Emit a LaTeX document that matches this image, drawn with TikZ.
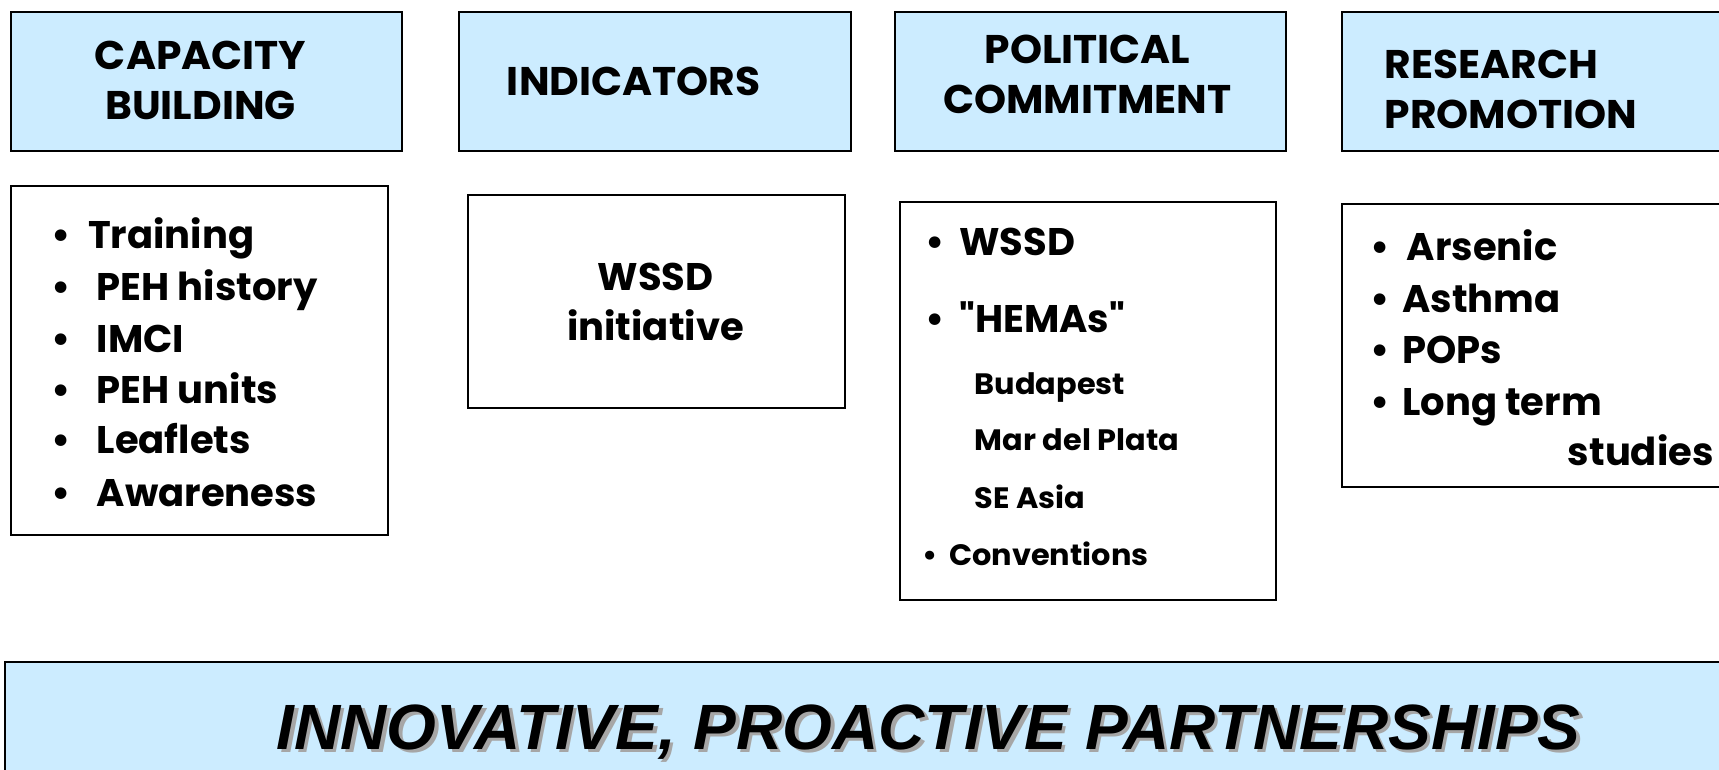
\documentclass[tikz,border=0pt]{standalone}
\usepackage{fontspec}
\setmainfont{Poppins}
\newfontfamily\gothic[FakeStretch=1.02]{Poppins}
\newfontfamily\gothicb[FakeStretch=1.0]{Poppins}
\newfontfamily\gothics[FakeStretch=1.03]{Poppins}
\newfontfamily\arialbi[FakeStretch=1.0]{Liberation Sans}
\definecolor{lblue}{HTML}{CCECFF}
\definecolor{shadowgrey}{HTML}{A6A6A6}
\begin{document}
\begin{tikzpicture}[x=1pt,y=-1pt,
  box/.style={draw=black, line width=2pt, anchor=north west, inner sep=0pt, outer sep=0pt},
  hbox/.style={box, fill=lblue},
  hd/.style={font=\gothic\bfseries\fontsize{40}{40}\selectfont, inner sep=0pt, anchor=base},
  hdl/.style={hd, anchor=base west},
  itm/.style={font=\gothicb\bfseries\fontsize{38.5}{38.5}\selectfont, inner sep=0pt, anchor=base west},
  itc/.style={itm, anchor=base},
  sml/.style={font=\gothics\bfseries\fontsize{29.5}{29.5}\selectfont, inner sep=0pt, anchor=base west},
  big/.style={font=\arialbi\bfseries\itshape\fontsize{64}{64}\selectfont, inner sep=0pt, anchor=base},
]
\useasboundingbox (0,0) rectangle (1719,770);
\clip (0,0) rectangle (1719,770);
\fill[white] (0,0) rectangle (1719,770);

% header boxes
\node[hbox, minimum width=391pt, minimum height=139pt] (b1) at (11,12) {};
\node[hbox, minimum width=392pt, minimum height=139pt] (b2) at (459,12) {};
\node[hbox, minimum width=391pt, minimum height=139pt] (b3) at (895,12) {};
\node[hbox, minimum width=400pt, minimum height=139pt] (b4) at (1342,12) {};
% content boxes
\node[box, minimum width=377pt, minimum height=349pt] (b5) at (11,186) {};
\node[box, minimum width=377pt, minimum height=213pt] (b6) at (468,195) {};
\node[box, minimum width=376pt, minimum height=398pt] (b7) at (900,202) {};
\node[box, minimum width=400pt, minimum height=283pt] (b8) at (1342,204) {};
% bottom banner
\node[hbox, minimum width=1760pt, minimum height=150pt] (b9) at (5,662) {};

% headings
\node[hd] (h1a) at (200.6,69.5) {CAPACITY};
\node[hd] (h1b) at (200.6,120) {BUILDING};
\node[hd] (h2) at (633.7,96) {INDICATORS};
\node[hd] (h3a) at (1087.5,64) {POLITICAL};
\node[hd] (h3b) at (1087.5,114) {COMMITMENT};
\node[hdl] (h4a) at (1384.6,79) {RESEARCH};
\node[hdl] (h4b) at (1384.6,129) {PROMOTION};

% capacity building list
\node[itm] (c1) at (51,248) {\makebox[37pt][l]{•}Training};
\node[itm] (c2) at (51,300) {\makebox[45.5pt][l]{•}PEH history};
\node[itm] (c3) at (51,352) {\makebox[45.5pt][l]{•}IMCI};
\node[itm] (c4) at (51,403) {\makebox[45.5pt][l]{•}PEH units};
\node[itm] (c5) at (51,453) {\makebox[45.5pt][l]{•}Leaflets};
\node[itm] (c6) at (51,506) {\makebox[45.5pt][l]{•}Awareness};

% indicators
\node[itc] (i1) at (655.6,290) {WSSD};
\node[itc] (i2) at (655.6,340) {initiative};

% political commitment
\node[itm] (p1) at (925,255) {\makebox[34pt][l]{•}WSSD};
\node[itm] (p2) at (925,332) {\makebox[34pt][l]{•}"HEMAs"};
\node[sml] (p3) at (974.6,394) {Budapest};
\node[sml] (p4) at (974.6,450) {Mar del Plata};
\node[sml] (p5) at (974.6,508) {SE Asia};
\node[sml] (p6) at (922,565) {\makebox[27pt][l]{•}Conventions};

% research promotion
\node[itm] (r1) at (1370,260) {\makebox[36.5pt][l]{•}Arsenic};
\node[itm] (r2) at (1370,312) {\makebox[32pt][l]{•}Asthma};
\node[itm] (r3) at (1370,363) {\makebox[32pt][l]{•}POPs};
\node[itm] (r4) at (1370,415) {\makebox[32pt][l]{•}Long term};
\node[itm] (r5) at (1567.7,465) {studies};

% banner text with shadow
\node[big, text=shadowgrey] (bs) at (932,752) {INNOVATIVE, PROACTIVE PARTNERSHIPS};
\node[big] (bt) at (928.6,749) {INNOVATIVE, PROACTIVE PARTNERSHIPS};
\end{tikzpicture}
\end{document}
